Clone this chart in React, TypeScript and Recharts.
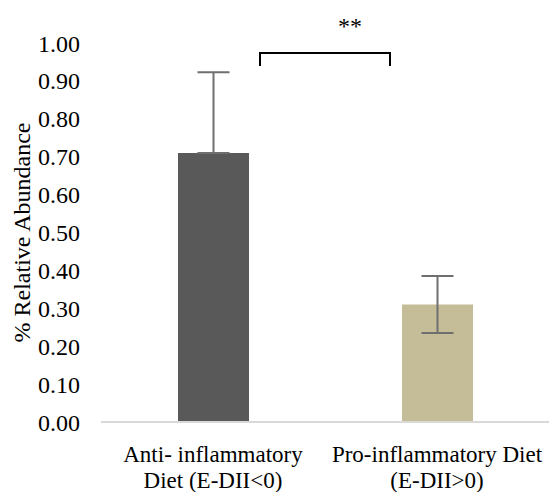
import { BarChart, Bar, XAxis, YAxis, ErrorBar, Cell } from 'recharts'

const categories = ['Anti- inflammatory|Diet (E-DII<0)', 'Pro-inflammatory Diet|(E-DII>0)']
const abundance = [0.71, 0.31]
const errLow = [0, 0.075]
const errHigh = [0.213, 0.075]
const barColors = ['#595959', '#C4BD97']
const yTicks = [0, 0.1, 0.2, 0.3, 0.4, 0.5, 0.6, 0.7, 0.8, 0.9, 1.0]

const rows = categories.map((c, i) => ({
  cat: c,
  value: abundance[i],
  err: [errLow[i], errHigh[i]],
}))

const FONT = 'Liberation Serif, Times New Roman, DejaVu Serif, serif'

// eslint-disable-next-line @typescript-eslint/no-explicit-any
function CatTick({ x, y, payload }: any) {
  const lines = String(payload.value).split('|')
  return (
    <text x={x} y={y} textAnchor="middle" style={{ fontFamily: FONT }} fontSize={23} fill="#000">
      {lines.map((l, i) => (
        <tspan key={i} x={x} dy={i === 0 ? 32 : 26}>{l}</tspan>
      ))}
    </text>
  )
}

export default function App() {
  return (
    <div style={{ position: 'absolute', left: 0, top: 0, width: 549, height: 492, background: '#fff', fontFamily: FONT }}>
      <BarChart width={549} height={492} data={rows} margin={{ top: 43, right: 0, left: 0, bottom: 0 }}>
        <XAxis
          dataKey="cat"
          tick={<CatTick />}
          tickLine={false}
          axisLine={{ stroke: '#D9D9D9', strokeWidth: 2 }}
          height={70}
          interval={0}
        />
        <YAxis
          domain={[0, 1]}
          ticks={yTicks}
          tickFormatter={(v: number) => v.toFixed(2)}
          tick={{ fontSize: 24, fill: '#000', style: { fontFamily: FONT } }}
          axisLine={false}
          tickLine={false}
          tickSize={0}
          tickMargin={21}
          width={101}
          label={{
            value: '%  Relative Abundance',
            angle: -90,
            position: 'insideLeft',
            dx: 16,
            style: { fontFamily: FONT, fontSize: 24, fill: '#000', textAnchor: 'middle' },
          }}
        />
        <Bar dataKey="value" barSize={71} isAnimationActive={false}>
          {rows.map((r, i) => (
            <Cell key={r.cat} fill={barColors[i]} />
          ))}
          <ErrorBar dataKey="err" width={16} stroke="#6F6F6F" strokeWidth={2} />
        </Bar>
      </BarChart>
      <svg width={549} height={492} style={{ position: 'absolute', left: 0, top: 0, pointerEvents: 'none' }}>
        <path d="M260,66 L260,53 L390,53 L390,66" fill="none" stroke="#000" strokeWidth={2} />
        <text x={350} y={34} textAnchor="middle" style={{ fontFamily: FONT }} fontSize={24} fill="#000">**</text>
      </svg>
    </div>
  )
}
